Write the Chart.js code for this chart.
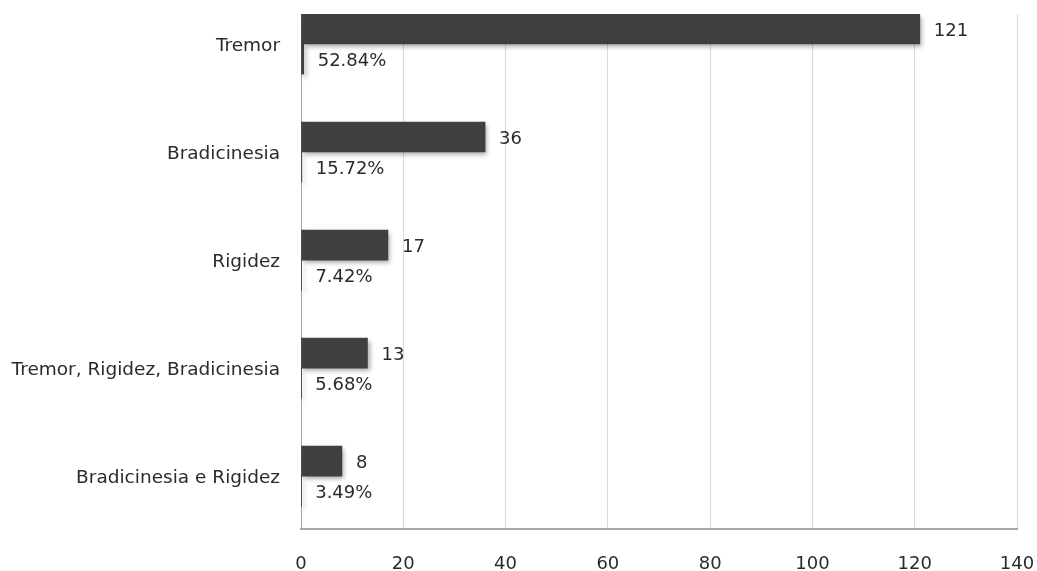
<!DOCTYPE html>
<html>
<head>
<meta charset="utf-8">
<script src="https://cdn.jsdelivr.net/npm/chart.js@4/dist/chart.umd.min.js"></script>
<style>
  html, body { margin: 0; padding: 0; background: #fff; overflow: hidden; }
  #chart { display: block; }
</style>
</head>
<body>
<canvas id="chart" width="1037" height="571"></canvas>
<script>
const symptoms = ['Tremor', 'Bradicinesia', 'Rigidez', 'Tremor, Rigidez, Bradicinesia', 'Bradicinesia e Rigidez'];
const patientCounts = [121, 36, 17, 13, 8];
const patientPercents = [52.84, 15.72, 7.42, 5.68, 3.49];
const xTicks = [0, 20, 40, 60, 80, 100, 120, 140];

const barColor = '#404040';
const textColor = '#2b2b2b';
const numberFont = { family: 'DejaVu Sans', size: 18 };

// no extra room for the edge tick labels, the layout padding handles it
function noEdgePadding(scale) {
    scale.paddingTop = 0;
    scale.paddingBottom = 0;
    scale.paddingLeft = 0;
    scale.paddingRight = 0;
}

// shadow under the bars, then value labels at the end of each bar
const barDecor = {
    id: 'barDecor',
    beforeDatasetsDraw(chart) {
        const ctx = chart.ctx;
        ctx.save();
        ctx.shadowColor = 'rgba(0, 0, 0, 0.35)';
        ctx.shadowBlur = 5;
        ctx.shadowOffsetX = 2;
        ctx.shadowOffsetY = 3;
    },
    afterDatasetsDraw(chart) {
        const ctx = chart.ctx;
        ctx.restore();
        ctx.save();
        ctx.fillStyle = textColor;
        ctx.font = numberFont.size + 'px "' + numberFont.family + '"';
        ctx.textAlign = 'left';
        ctx.textBaseline = 'middle';
        chart.data.datasets.forEach((ds, di) => {
            chart.getDatasetMeta(di).data.forEach((bar, i) => {
                const txt = di === 0 ? String(patientCounts[i]) : patientPercents[i].toFixed(2) + '%';
                ctx.fillText(txt, bar.x + 14, bar.y + 2);
            });
        });
        ctx.restore();
    }
};

new Chart(document.getElementById('chart'), {
    type: 'bar',
    data: {
        datasets: [{
            label: 'Pacientes',
            data: patientCounts.map((v, i) => ({ x: v, y: i })),
            backgroundColor: barColor,
            barThickness: 30
        }, {
            label: '%',
            data: patientPercents.map((v, i) => ({ x: v / 100, y: i })),
            backgroundColor: barColor,
            barThickness: 30
        }]
    },
    options: {
        indexAxis: 'y',
        responsive: false,
        animation: false,
        devicePixelRatio: 1,
        layout: { padding: { top: 14, right: 20, bottom: 0, left: 0 } },
        plugins: {
            legend: { display: false },
            tooltip: { enabled: false }
        },
        scales: {
            x: {
                type: 'linear',
                min: 0,
                max: 140,
                afterBuildTicks: (scale) => { scale.ticks = xTicks.map(v => ({ value: v })); },
                afterFit: (scale) => { scale.height = 42; noEdgePadding(scale); },
                grid: { color: '#d9d9d9', lineWidth: 1, drawTicks: false },
                border: { color: '#a6a6a6', width: 2 },
                ticks: { color: textColor, font: numberFont, padding: 25 }
            },
            y: {
                type: 'linear',
                reverse: true,
                offset: false,
                min: -0.278,
                max: 4.49,
                afterBuildTicks: (scale) => { scale.ticks = symptoms.map((s, i) => ({ value: i + 0.02 })); },
                afterFit: (scale) => { scale.width = 301; noEdgePadding(scale); },
                grid: { display: false, drawTicks: false },
                border: { color: '#a6a6a6', width: 1 },
                ticks: {
                    color: textColor,
                    font: { family: 'DejaVu Sans', size: 18.5 },
                    padding: 21,
                    callback: (v) => symptoms[Math.round(v)]
                }
            }
        }
    },
    plugins: [barDecor]
});
</script>
</body>
</html>
